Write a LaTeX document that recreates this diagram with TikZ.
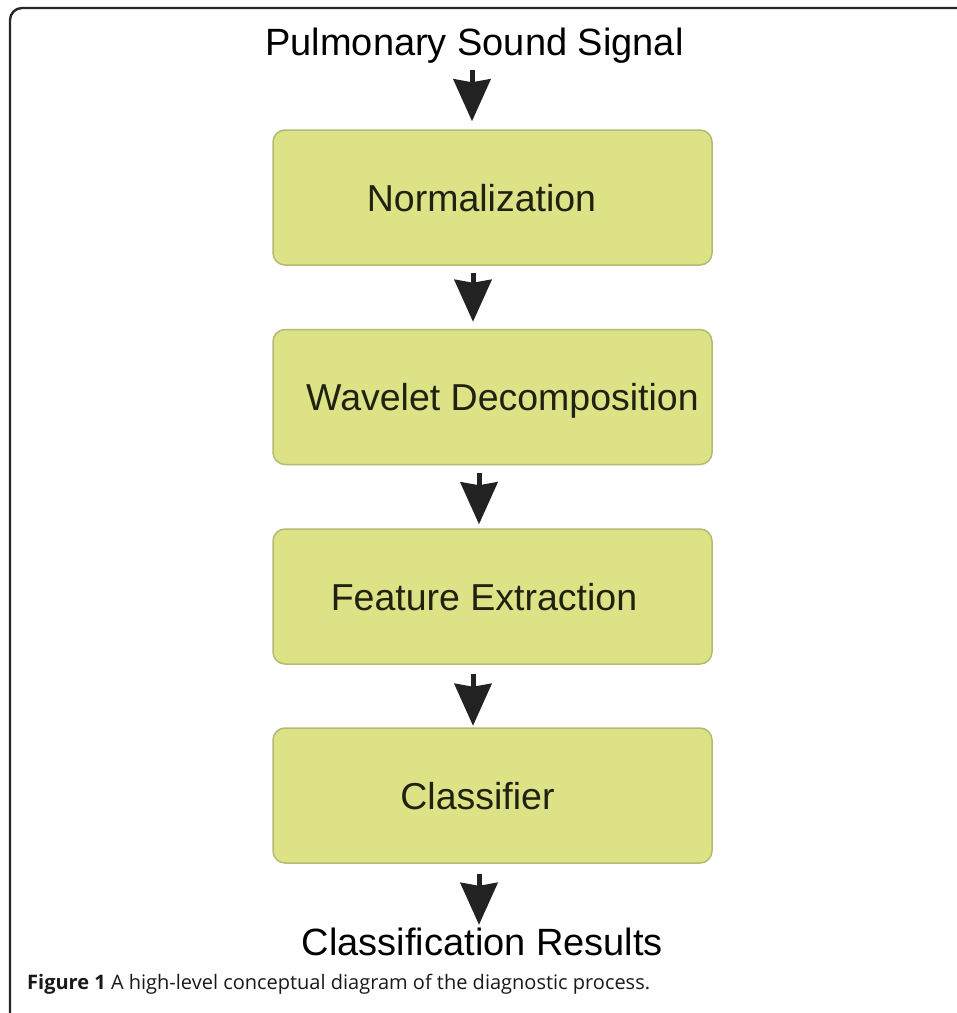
\documentclass[tikz,border=0pt]{standalone}
\usepackage{fontspec}
\setmainfont{Liberation Sans}
\newfontfamily\capfont{Open Sans}
\usetikzlibrary{arrows.meta}
\definecolor{boxfill}{RGB}{221,226,135}
\definecolor{boxline}{RGB}{178,186,118}
\definecolor{boxtext}{RGB}{32,34,16}
\definecolor{arrowcol}{RGB}{34,34,34}
\definecolor{framecol}{RGB}{40,40,40}
\tikzset{
  stepbox/.style={draw=boxline, line width=1.5pt, fill=boxfill, rounded corners=12pt,
    minimum width=439pt, minimum height=135pt, inner sep=0pt,
    text=boxtext, font=\fontsize{37.5pt}{45pt}\selectfont,
    text height=27pt, text depth=0pt},
  endtext/.style={inner sep=0pt, text=black, font=\fontsize{38pt}{45pt}\selectfont,
    text height=28pt, text depth=8pt},
  flowarrow/.style={draw=arrowcol, line width=5pt,
    -{Stealth[width=37pt,length=42pt,inset=3pt,fill=arrowcol]}},
  frameline/.style={draw=framecol, line width=2.4pt, rounded corners=12pt}
}
\begin{document}
\begin{tikzpicture}[x=1pt,y=-1pt]
\useasboundingbox (0,0) rectangle (957,1013);
\draw[frameline] (10,1013) |- (957,8);

\node[endtext, anchor=base] (title) at (474.5,55) {Pulmonary Sound Signal};
\node[stepbox] (b1) at (492.5,197.5) {\hspace*{-22pt}Normalization};
\node[stepbox] (b2) at (492.5,397) {\hspace*{20pt}Wavelet Decomposition};
\node[stepbox] (b3) at (492.5,596.5) {\hspace*{-17pt}Feature Extraction};
\node[stepbox] (b4) at (492.5,795.5) {\hspace*{-30pt}Classifier};
\node[endtext, anchor=base] (res) at (482.5,955) {Classification Results};

\draw[flowarrow, shorten <=7pt, shorten >=8pt] ([xshift=-2.5pt]title.south) -- ([xshift=-20.5pt]b1.north);
\draw[flowarrow, shorten <=7pt, shorten >=7pt] ([xshift=-19.5pt]b1.south) -- ([xshift=-19.5pt]b2.north);
\draw[flowarrow, shorten <=7.5pt, shorten >=4pt] ([xshift=-13.5pt]b2.south) -- ([xshift=-13.5pt]b3.north);
\draw[flowarrow, shorten <=9pt, shorten >=1.5pt] ([xshift=-19.5pt]b3.south) -- ([xshift=-19.5pt]b4.north);
\draw[flowarrow, shorten <=10pt, shorten >=2pt] ([xshift=-13.5pt]b4.south) -- ([xshift=-3.5pt]res.north);

\node[anchor=base west, inner sep=0pt, text=black!90, font=\capfont\fontsize{20pt}{24pt}\selectfont] (cap) at (27,989)
  {\textbf{Figure 1} A high-level conceptual diagram of the diagnostic process.};
\end{tikzpicture}
\end{document}
